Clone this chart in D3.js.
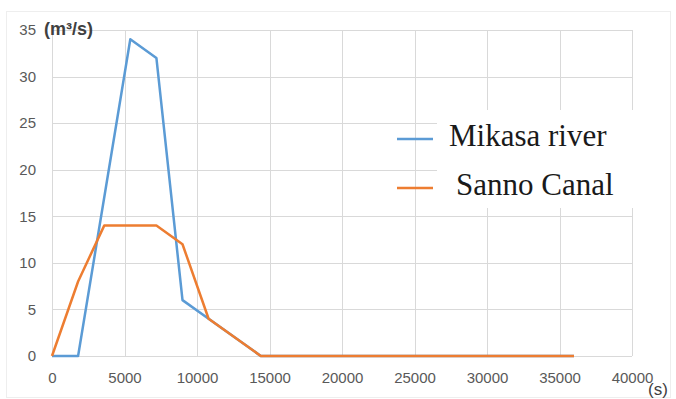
<!DOCTYPE html>
<html>
<head>
<meta charset="utf-8">
<script src="https://cdn.jsdelivr.net/npm/d3@7"></script>
<style>
  body { margin: 0; background: #fff; }
  svg { display: block; }
</style>
</head>
<body>
<svg id="canvas"></svg>
<script>
// data (time in s, flow in m3/s)
const mikasaTime = [0, 1800, 5400, 7200, 9000, 10800, 14400, 36000];
const mikasaFlow = [0, 0, 34, 32, 6, 4, 0, 0];
const sannoTime = [0, 1800, 3600, 7200, 9000, 10800, 14400, 36000];
const sannoFlow = [0, 8, 14, 14, 12, 4, 0, 0];
const xTicks = [0, 5000, 10000, 15000, 20000, 25000, 30000, 35000, 40000];
const yTicks = [0, 5, 10, 15, 20, 25, 30, 35];
const seriesNames = ["Mikasa river", "Sanno Canal"];
const seriesColors = ["#5B9BD5", "#ED7D31"];

const width = 676;
const height = 399;

const canvas = d3.select("#canvas").attr("width", width).attr("height", height);

const xScale = d3.scaleLinear().domain([0, 40000]).range([52, 632]);
const yScale = d3.scaleLinear().domain([0, 35]).range([356, 30]);

// outer frame
canvas.append("rect")
  .attr("x", 6.5).attr("y", 11.5)
  .attr("width", 664).attr("height", 386)
  .attr("fill", "none").attr("stroke", "#eeeeee");

// grid
canvas.append("g").selectAll("line").data(yTicks).enter().append("line")
  .attr("x1", xScale(0)).attr("x2", xScale(40000))
  .attr("y1", (d) => Math.round(yScale(d)) + 0.5)
  .attr("y2", (d) => Math.round(yScale(d)) + 0.5)
  .attr("stroke", "#d9d9d9");
canvas.append("g").selectAll("line").data(xTicks).enter().append("line")
  .attr("y1", yScale(0)).attr("y2", yScale(35))
  .attr("x1", (d) => Math.round(xScale(d)) + 0.5)
  .attr("x2", (d) => Math.round(xScale(d)) + 0.5)
  .attr("stroke", "#d9d9d9");

// axes (labels only)
const xAxis = d3.axisBottom(xScale).tickValues(xTicks).tickSize(0).tickPadding(16).tickFormat(d3.format("d"));
const yAxis = d3.axisLeft(yScale).tickValues(yTicks).tickSize(0).tickPadding(16);

const gx = canvas.append("g").attr("transform", `translate(0, ${yScale(0)})`).call(xAxis);
const gy = canvas.append("g").attr("transform", `translate(${xScale(0)}, 0)`).call(yAxis);
[gx, gy].forEach((g) => {
  g.select(".domain").remove();
  g.selectAll("text")
    .attr("fill", "#595959")
    .style("font-family", "'Liberation Sans', Arial, sans-serif")
    .style("font-size", "15px");
});

// lines
const line = d3.line().x((d) => xScale(d[0])).y((d) => yScale(d[1]));
const series = [
  d3.zip(mikasaTime, mikasaFlow),
  d3.zip(sannoTime, sannoFlow),
];
canvas.append("g").selectAll("path").data(series).enter().append("path")
  .attr("d", line)
  .attr("fill", "none")
  .attr("stroke", (d, i) => seriesColors[i])
  .attr("stroke-width", 2.5)
  .attr("stroke-linejoin", "round");

// unit labels
canvas.append("text")
  .attr("x", 44).attr("y", 35)
  .attr("fill", "#404040")
  .style("font-family", "'Liberation Sans', Arial, sans-serif")
  .style("font-size", "18px").style("font-weight", "bold")
  .text("(m³/s)");
canvas.append("text")
  .attr("x", 648).attr("y", 395)
  .attr("fill", "#404040")
  .style("font-family", "'Liberation Sans', Arial, sans-serif")
  .style("font-size", "17px")
  .text("(s)");

// legend
const legend = canvas.append("g");
legend.append("rect")
  .attr("x", 437).attr("y", 110).attr("width", 203).attr("height", 98)
  .attr("fill", "#fff");
const legendX = [449, 456];
const legendY = [146, 195];
const item = legend.selectAll("g").data(seriesNames).enter().append("g");
item.append("line")
  .attr("x1", 397).attr("x2", 433)
  .attr("y1", (d, i) => legendY[i] - 7).attr("y2", (d, i) => legendY[i] - 7)
  .attr("stroke", (d, i) => seriesColors[i])
  .attr("stroke-width", 2.5);
item.append("text")
  .attr("x", (d, i) => legendX[i]).attr("y", (d, i) => legendY[i])
  .attr("fill", "#1a1a1a")
  .style("font-family", "'Liberation Serif', 'Times New Roman', serif")
  .style("font-size", "31px")
  .text((d) => d);
</script>
</body>
</html>
